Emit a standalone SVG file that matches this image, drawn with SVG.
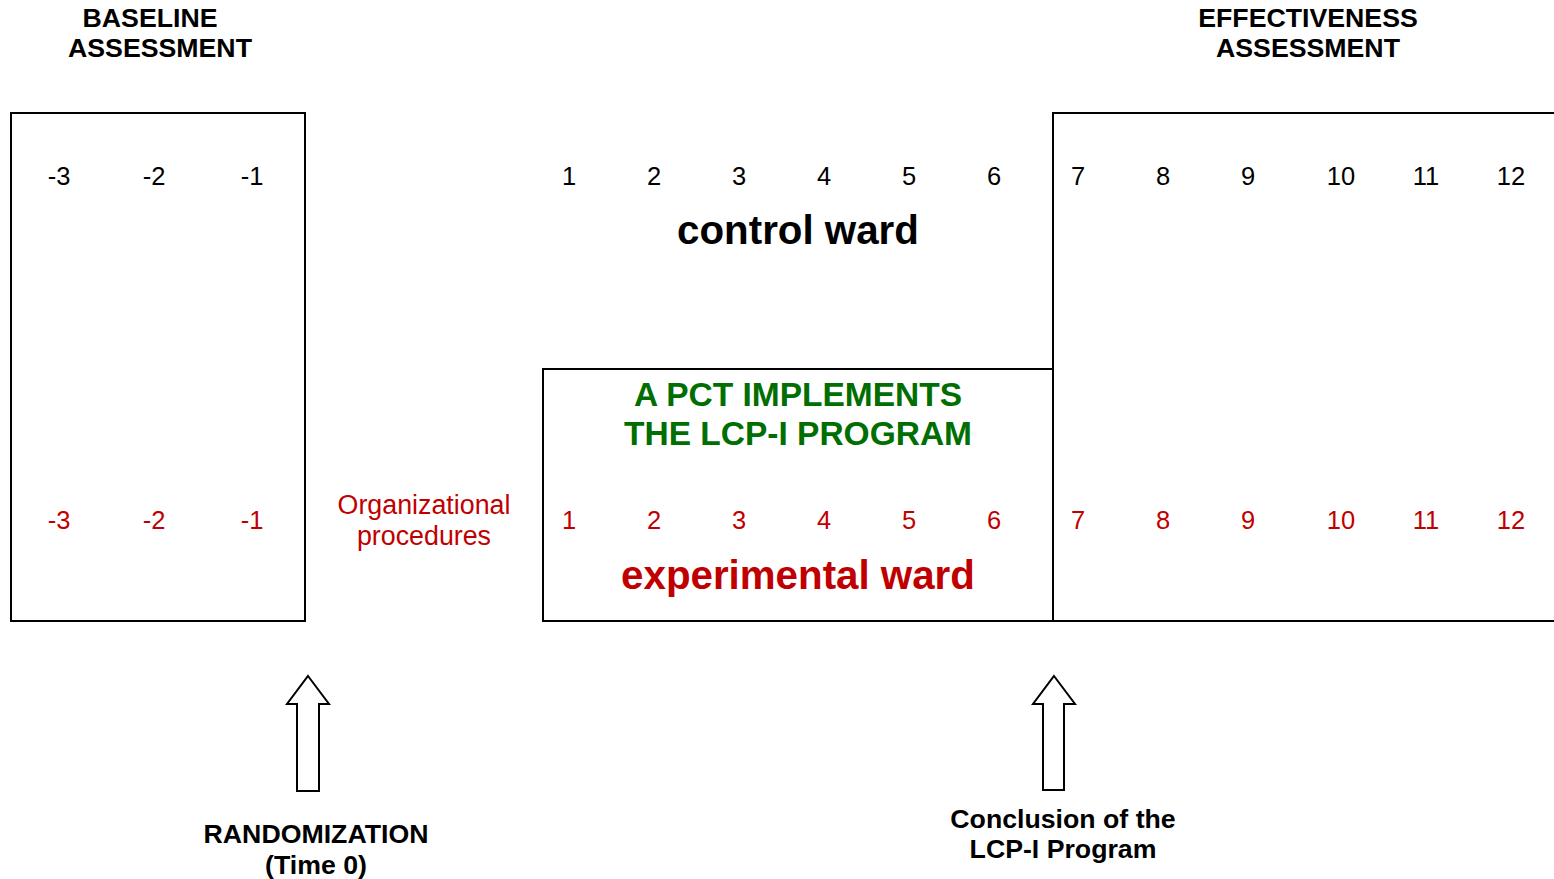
<svg xmlns="http://www.w3.org/2000/svg" width="1554" height="879" viewBox="0 0 1554 879">
<style>
.box{fill:none;stroke:#000;stroke-width:2}
.arr{fill:#fff;stroke:#000;stroke-width:2;stroke-linejoin:miter}
text{font-family:"Liberation Sans",Arial,sans-serif;text-anchor:middle}
.h{font-size:26.7px;font-weight:bold;fill:#000}
.n{font-size:25.5px;fill:#000}
.r{font-size:25.5px;fill:#c00000}
.g{font-size:33.5px;font-weight:bold;fill:#006e00}
.w{font-size:40.3px;font-weight:bold}
.o{font-size:26.8px;fill:#c00000}
</style>
<rect width="1554" height="879" fill="#fff"/>
<g id="baseline-heading">
<text class="h" x="150" y="27">BASELINE</text>
<text class="h" x="160" y="57">ASSESSMENT</text>
</g>
<g id="effectiveness-heading">
<text class="h" x="1308" y="27">EFFECTIVENESS</text>
<text class="h" x="1308" y="57">ASSESSMENT</text>
</g>
<g id="baseline-box">
<rect class="box" x="11" y="113" width="294" height="508"/>
<text class="n" x="59" y="185">-3</text>
<text class="n" x="154" y="185">-2</text>
<text class="n" x="252" y="185">-1</text>
<text class="r" x="59" y="529">-3</text>
<text class="r" x="154" y="529">-2</text>
<text class="r" x="252" y="529">-1</text>
</g>
<g id="organizational">
<text class="o" x="424" y="514">Organizational</text>
<text class="o" x="424" y="545">procedures</text>
</g>
<g id="control-ward">
<text class="n" x="569" y="185">1</text>
<text class="n" x="654" y="185">2</text>
<text class="n" x="739" y="185">3</text>
<text class="n" x="824" y="185">4</text>
<text class="n" x="909" y="185">5</text>
<text class="n" x="994" y="185">6</text>
<text class="w" x="798" y="244" fill="#000">control ward</text>
</g>
<g id="experimental-box">
<rect class="box" x="543" y="369" width="510" height="252"/>
<text class="g" x="798" y="406">A PCT IMPLEMENTS</text>
<text class="g" x="798" y="445">THE LCP-I PROGRAM</text>
<text class="r" x="569" y="529">1</text>
<text class="r" x="654" y="529">2</text>
<text class="r" x="739" y="529">3</text>
<text class="r" x="824" y="529">4</text>
<text class="r" x="909" y="529">5</text>
<text class="r" x="994" y="529">6</text>
<text class="w" x="798" y="589" fill="#c00000">experimental ward</text>
</g>
<g id="effectiveness-box">
<path class="box" d="M1555,113 H1053 V621 H1555"/>
<text class="n" x="1078" y="185">7</text>
<text class="n" x="1163" y="185">8</text>
<text class="n" x="1248" y="185">9</text>
<text class="n" x="1341" y="185">10</text>
<text class="n" x="1426" y="185">11</text>
<text class="n" x="1511" y="185">12</text>
<text class="r" x="1078" y="529">7</text>
<text class="r" x="1163" y="529">8</text>
<text class="r" x="1248" y="529">9</text>
<text class="r" x="1341" y="529">10</text>
<text class="r" x="1426" y="529">11</text>
<text class="r" x="1511" y="529">12</text>
</g>
<g id="connectors">
<polygon class="arr" points="308,676 329,704 319,704 319,791 297,791 297,704 287,704"/>
<polygon class="arr" points="1054,676 1075,704 1064,704 1064,790 1043,790 1043,704 1033,704"/>
</g>
<g id="randomization">
<text class="h" x="316" y="843">RANDOMIZATION</text>
<text class="h" x="316" y="874">(Time 0)</text>
</g>
<g id="conclusion">
<text class="h" x="1063" y="828">Conclusion of the</text>
<text class="h" x="1063" y="858">LCP-I Program</text>
</g>
</svg>
